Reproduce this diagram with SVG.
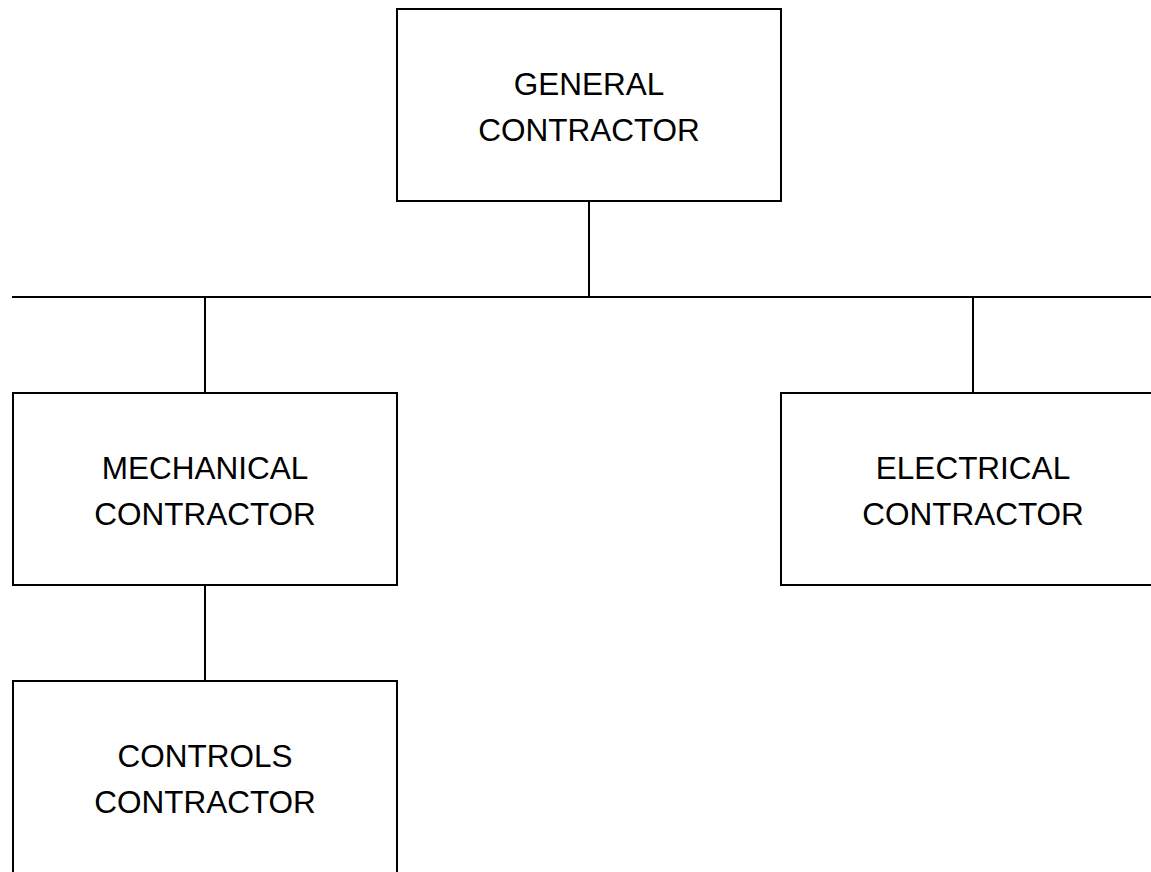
<svg xmlns="http://www.w3.org/2000/svg" width="1151" height="872" viewBox="0 0 1151 872">
<style>
.box{fill:#fff;stroke:#000;stroke-width:2}
.ln{fill:none;stroke:#000;stroke-width:2}
text{font-family:"Liberation Sans",Arial,sans-serif;font-size:31.5px;fill:#000;text-anchor:middle}
</style>
<rect width="1151" height="872" fill="#fff"/>
<g id="connectors">
<line class="ln" x1="589" y1="201" x2="589" y2="297"/>
<line class="ln" x1="12" y1="297" x2="1151" y2="297"/>
<line class="ln" x1="205" y1="297" x2="205" y2="393"/>
<line class="ln" x1="973" y1="297" x2="973" y2="393"/>
<line class="ln" x1="205" y1="585" x2="205" y2="681"/>
</g>
<g id="general">
<rect class="box" x="397" y="9" width="384" height="192"/>
<text x="589" y="95">GENERAL</text>
<text x="589" y="141">CONTRACTOR</text>
</g>
<g id="mechanical">
<rect class="box" x="13" y="393" width="384" height="192"/>
<text x="205" y="479">MECHANICAL</text>
<text x="205" y="525">CONTRACTOR</text>
</g>
<g id="electrical">
<rect class="box" x="781" y="393" width="384" height="192"/>
<text x="973" y="479">ELECTRICAL</text>
<text x="973" y="525">CONTRACTOR</text>
</g>
<g id="controls">
<rect class="box" x="13" y="681" width="384" height="200"/>
<text x="205" y="767">CONTROLS</text>
<text x="205" y="813">CONTRACTOR</text>
</g>
</svg>
